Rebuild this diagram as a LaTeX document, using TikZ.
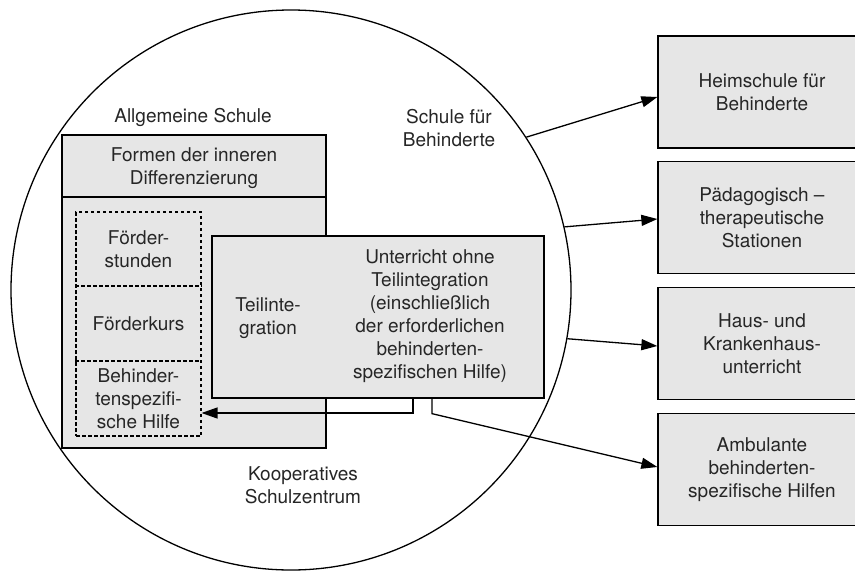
\documentclass[tikz,border=0pt]{standalone}
\usepackage{fontspec}
\setmainfont{TeX Gyre Heros}
\usetikzlibrary{arrows.meta}
\definecolor{boxfill}{HTML}{E6E6E6}
\definecolor{txt}{HTML}{262626}
\tikzset{
  lbl/.style={inner sep=0pt, align=center, text=txt, font=\fontsize{19}{23}\selectfont},
  graybox/.style={draw=black, line width=1.3pt, fill=boxfill, inner sep=0pt, minimum width=#1},
  dashed line/.style={draw=black, line width=1.1pt, dash pattern=on 3.5pt off 2.5pt},
  rbox/.style={draw=black, line width=1.3pt, fill=boxfill, inner sep=0pt, minimum width=208pt, minimum height=112pt, align=center, text=txt, font=\fontsize{19}{23}\selectfont},
  arr/.style={line width=1.3pt, -{Triangle[length=16pt, width=11pt]}},
  conn/.style={line width=1.3pt}
}
\begin{document}
\begin{tikzpicture}[x=1pt, y=-1pt]
\clip (0,0) rectangle (855,571);
\fill[white] (0,0) rectangle (855,571);
% circle
\node[draw=black, line width=1.3pt, circle, minimum size=560pt, inner sep=0pt] (circ) at (291,290) {};
% left school box
\node[graybox=264pt, minimum height=313pt] (A) at (194,291.5) {};
\draw[conn] (A.west |- 0,197) coordinate (hl) -- (A.east |- 0,197) coordinate (hr);
\node[lbl] (hdr) at (194,168) {Formen der inneren\\Differenzierung};
% dashed boxes
\node[dashed line, minimum width=125pt, minimum height=224pt, inner sep=0pt] (dd) at (138.5,324) {};
\draw[dashed line] (dd.west |- 0,286) -- (dd.east |- 0,286);
\draw[dashed line] (dd.west |- 0,361) -- (dd.east |- 0,361);
\node[lbl] (d1) at (138.5,249) {Förder-\\stunden};
\node[lbl] (d2) at (138.5,323.5) {Förderkurs};
\node[lbl] (d3) at (138.5,398.5) {Behinder-\\tenspezifi-\\sche Hilfe};
% middle box
\node[graybox=332pt, minimum height=162pt] (m) at (378,317) {};
\node[lbl] (ti) at (268,318) {Teilinte-\\gration};
\node[lbl] (uo) at (430,316) {Unterricht ohne\\Teilintegration\\(einschließlich\\der erforderlichen\\behinderten-\\spezifischen Hilfe)};
% labels
\node[lbl] (la) at (193,117) {Allgemeine Schule};
\node[lbl] (lb) at (449,128) {Schule für\\Behinderte};
\node[lbl] (lk) at (303,485) {Kooperatives\\Schulzentrum};
% right boxes
\node[rbox] (b1) at (762,92) {Heimschule für\\Behinderte};
\node[rbox] (b2) at (762,217.5) {Pädagogisch –\\therapeutische\\Stationen};
\node[rbox] (b3) at (762,343.5) {Haus- und\\Krankenhaus-\\unterricht};
\node[rbox] (b4) at (762,469.5) {Ambulante\\behinderten-\\spezifische Hilfen};
% connectors
\draw[arr] (circ.33) -- ([yshift=-5pt]b1.west);
\draw[arr] (circ.13) -- ([yshift=-1.5pt]b2.west);
\draw[arr] (circ.-10.5) -- ([yshift=-2.5pt]b3.west);
\draw[arr] ([xshift=35pt]m.south) |- (dd.east |- 0,413);
\draw[arr] ([xshift=54pt]m.south) -- ++(0,15) -- ([yshift=2.5pt]b4.west);
\end{tikzpicture}
\end{document}
